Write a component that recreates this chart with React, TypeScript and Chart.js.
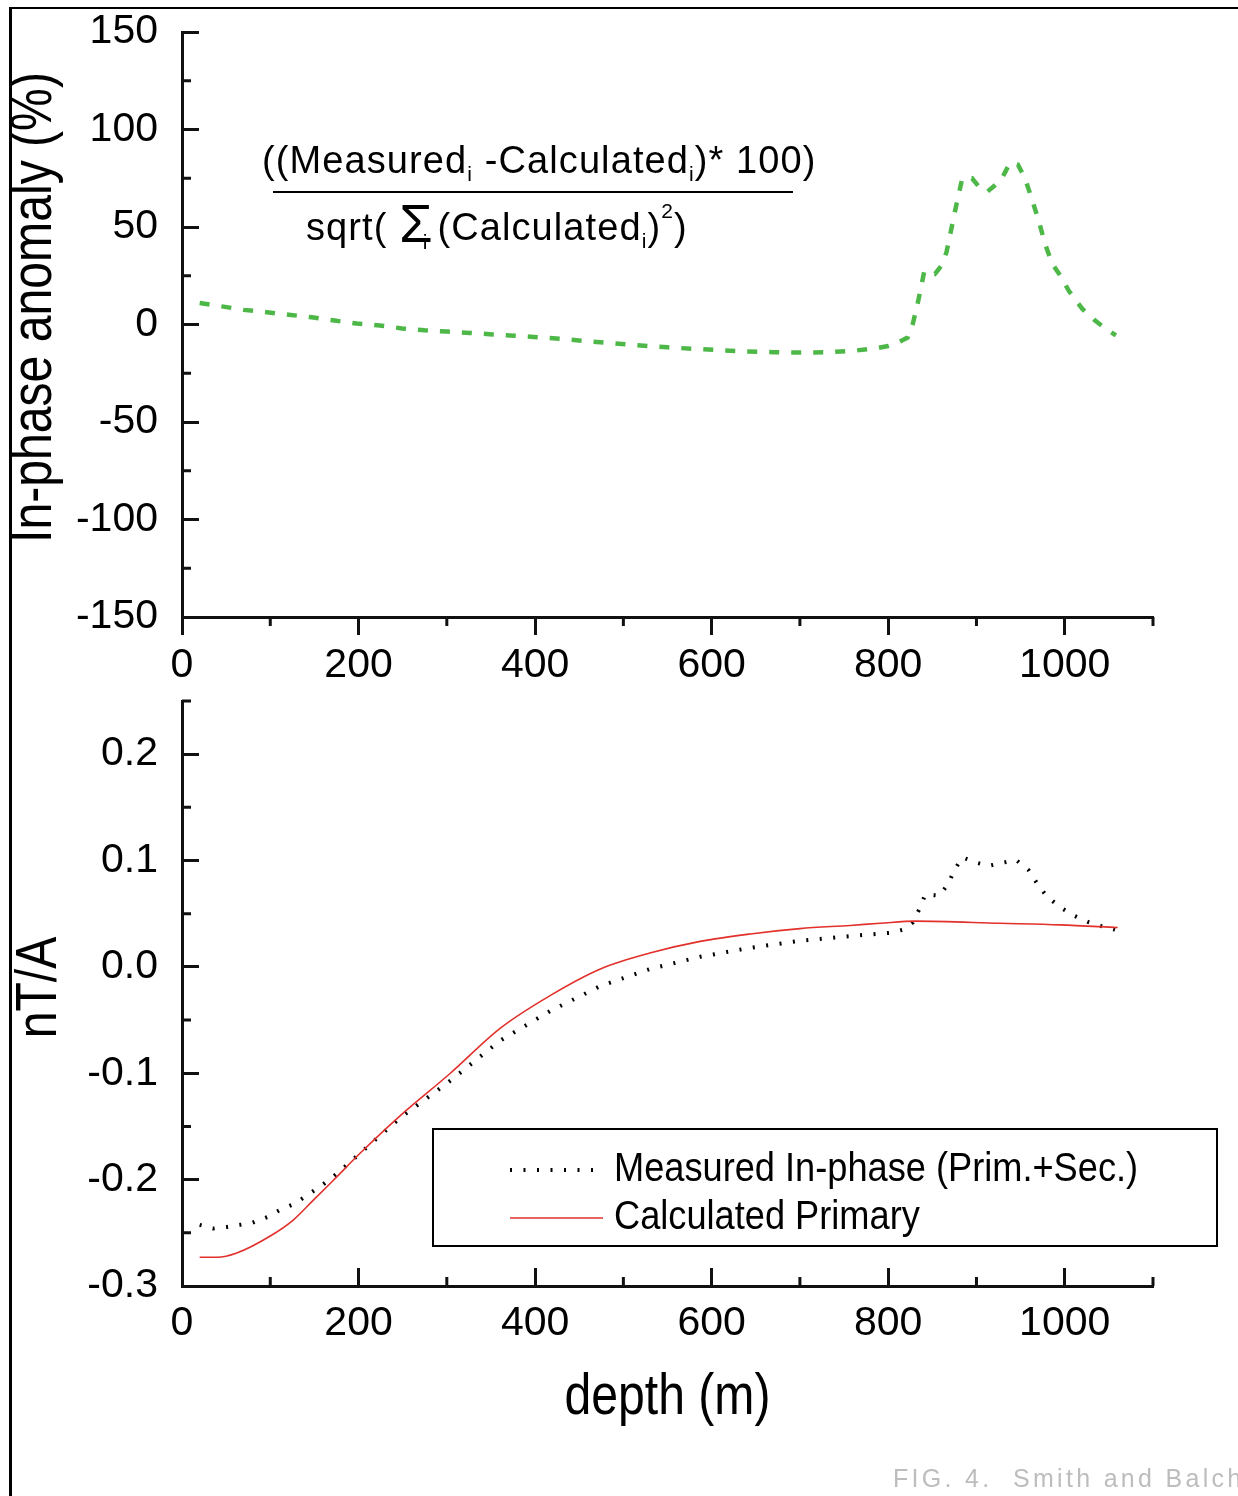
import { useEffect, useRef } from 'react';
import { Chart, registerables } from 'chart.js';

Chart.register(...registerables);

// ---------------- data ----------------
const depthMajorTicks = [0, 200, 400, 600, 800, 1000];
const depthMinorTicks = [100, 300, 500, 700, 900, 1100];
const depthTickLabels = ['0', '200', '400', '600', '800', '1000'];

const anomalyMajorTicks = [-150, -100, -50, 0, 50, 100, 150];
const anomalyMinorTicks = [-125, -75, -25, 25, 75, 125];
const anomalyTickLabels = ['-150', '-100', '-50', '0', '50', '100', '150'];

const fieldMajorTicks = [-0.3, -0.2, -0.1, 0, 0.1, 0.2];
const fieldMinorTicks = [-0.25, -0.15, -0.05, 0.05, 0.15, 0.25];
const fieldTickLabels = ['-0.3', '-0.2', '-0.1', '0.0', '0.1', '0.2'];

const anomalyDepth = [20, 45, 70, 96, 121, 147, 173, 198, 224, 249, 275, 300, 326, 352, 377, 402, 430, 460, 490, 520, 550, 580, 610, 640, 670, 700, 730, 760, 785, 800, 811, 822, 828, 834, 841, 846, 853, 860, 866, 872, 878, 884, 895, 904, 912, 920, 929, 938, 947, 955, 963, 970, 978, 986, 995, 1005, 1020, 1033, 1046, 1058];
const anomalyPercent = [11, 9.3, 7.5, 6.3, 5, 3.7, 2, 0.5, -0.5, -2, -3, -3.6, -4.3, -5.1, -5.8, -6.5, -7.4, -8.6, -9.7, -10.8, -11.7, -12.5, -13.2, -13.8, -14.2, -14.4, -14.2, -13.5, -12.3, -11, -9.2, -6.7, 0.5, 12, 27.5, 27, 26, 30, 37, 50, 63, 75, 75, 70, 68, 71, 75, 83, 82, 75, 64, 54, 41, 31, 25, 17, 8, 2.5, -2, -5.6];

const measuredDepth = [20, 35, 51, 66, 80, 97, 112, 127, 143, 159, 179, 202, 247, 304, 360, 417, 474, 530, 587, 644, 700, 757, 802, 817, 828, 836, 842, 858, 868, 875, 884, 900, 914, 930, 945, 959, 969, 980, 996, 1011, 1027, 1041, 1057];
const measuredInPhase = [-0.2425, -0.246, -0.2445, -0.2425, -0.2405, -0.235, -0.228, -0.223, -0.214, -0.205, -0.192, -0.175, -0.142, -0.107, -0.0695, -0.0415, -0.018, -0.002, 0.0095, 0.018, 0.0245, 0.029, 0.032, 0.035, 0.042, 0.0555, 0.068, 0.067, 0.078, 0.091, 0.103, 0.098, 0.095, 0.098, 0.1005, 0.091, 0.078, 0.066, 0.0555, 0.048, 0.042, 0.0385, 0.035];

const primaryDepth = [20, 40, 62, 100, 126, 148, 171, 202, 247, 304, 360, 417, 474, 530, 587, 644, 700, 757, 791, 831, 927, 995, 1060];
const primaryField = [-0.273, -0.273, -0.269, -0.253, -0.238, -0.22, -0.201, -0.175, -0.14, -0.1, -0.058, -0.027, -0.002, 0.013, 0.024, 0.031, 0.036, 0.039, 0.041, 0.043, 0.041, 0.0395, 0.037];

const seriesLabels = ['Measured In-phase (Prim.+Sec.)', 'Calculated Primary'];
const topAxisTitle = 'In-phase anomaly (%)';
const bottomAxisTitle = 'nT/A';
const depthAxisTitle = 'depth (m)';
const footerText = 'FIG. 4.  Smith and Balch';

// ---------------- styles ----------------
const AXIS = '#111111';
const GREEN = '#4db848';
const RED = '#e2302b';
const FONT = "'Liberation Sans', Arial, sans-serif";
const TICK_SIZE = 41;
const TITLE_SIZE = 58;
const TITLE_SX = 0.83;
// shift of the vertical titles along their own direction (px, upward)
const titleShift: Record<string, number> = { [topAxisTitle]: 17, [bottomAxisTitle]: 6 };

const pts = (xs: number[], ys: number[]) => xs.map((x, i) => ({ x, y: ys[i] }));

// condensed rendering of the axis titles (the original uses a narrow face)
const condenseTitles = {
  id: 'condenseTitles',
  beforeDraw(chart: any) {
    const ctx = chart.ctx as any;
    if (ctx.__origFill) return;
    const orig = CanvasRenderingContext2D.prototype.fillText;
    ctx.__origFill = orig;
    ctx.fillText = function (text: string, x: number, y: number, maxWidth?: number) {
      if (String(this.font).indexOf(TITLE_SIZE + 'px') >= 0) {
        this.save();
        this.translate(x + (titleShift[text] || 0), y);
        this.scale(TITLE_SX, 1);
        orig.call(this, text, 0, 0);
        this.restore();
      } else if (maxWidth !== undefined && maxWidth !== null) {
        orig.call(this, text, x, y, maxWidth);
      } else {
        orig.call(this, text, x, y);
      }
    };
  },
  afterDraw(chart: any) {
    const ctx = chart.ctx as any;
    if (ctx.__origFill) {
      delete ctx.fillText;
      ctx.__origFill = undefined;
    }
  },
};

function drawMinorTicks(chart: any, id: string, values: number[], len: number) {
  const s = chart.scales[id];
  const ctx = chart.ctx;
  ctx.save();
  ctx.strokeStyle = AXIS;
  ctx.lineWidth = 3;
  ctx.beginPath();
  for (const v of values) {
    const p = s.getPixelForValue(v);
    if (s.isHorizontal()) {
      ctx.moveTo(p, s.top);
      ctx.lineTo(p, s.top + len);
    } else {
      ctx.moveTo(s.right, p);
      ctx.lineTo(s.right + len, p);
    }
  }
  ctx.stroke();
  ctx.restore();
}

function fillScaled(ctx: CanvasRenderingContext2D, text: string, x: number, y: number, sx: number) {
  ctx.save();
  ctx.translate(x, y);
  ctx.scale(sx, 1);
  ctx.fillText(text, 0, 0);
  ctx.restore();
}

type Run = { t: string; s: number; dy?: number; dx?: number };
function drawRuns(ctx: CanvasRenderingContext2D, x: number, y: number, runs: Run[]) {
  for (const r of runs) {
    ctx.font = `${r.s}px ${FONT}`;
    x += r.dx || 0;
    ctx.fillText(r.t, x, y + (r.dy || 0));
    x += ctx.measureText(r.t).width;
  }
}

function xScale(inward: boolean, withTitle: boolean) {
  return {
    type: 'linear',
    min: 0,
    max: 1100,
    position: 'bottom',
    afterBuildTicks: (s: any) => {
      s.ticks = depthMajorTicks.map((value) => ({ value }));
    },
    ticks: {
      autoSkip: false,
      maxRotation: 0,
      minRotation: 0,
      color: '#000',
      font: { family: FONT, size: TICK_SIZE },
      padding: inward ? 31 : 6,
      callback: (_v: any, i: number) => depthTickLabels[i],
    },
    grid: { drawOnChartArea: false, tickLength: inward ? -18 : 18, tickWidth: 3, tickColor: AXIS },
    border: { display: true, color: AXIS, width: 3 },
    title: withTitle
      ? { display: true, text: depthAxisTitle, color: '#000', font: { family: FONT, size: TITLE_SIZE }, padding: { top: 0, bottom: 63 } }
      : { display: false },
    afterFit: (s: any) => {
      s.height = withTitle ? 210 : 73;
      s.paddingLeft = 0;
      s.paddingRight = 0;
    },
  };
}

function yScale(min: number, max: number, major: number[], labels: string[], title: string, pad: number) {
  return {
    type: 'linear',
    min,
    max,
    position: 'left',
    afterBuildTicks: (s: any) => {
      s.ticks = major.map((value) => ({ value }));
    },
    ticks: {
      autoSkip: false,
      color: '#000',
      font: { family: FONT, size: TICK_SIZE },
      padding: 41,
      callback: (_v: any, i: number) => labels[i],
    },
    grid: { drawOnChartArea: false, tickLength: -17, tickWidth: 3, tickColor: AXIS },
    border: { display: true, color: AXIS, width: 3 },
    title: { display: true, text: title, color: '#000', font: { family: FONT, size: TITLE_SIZE }, padding: { top: pad, bottom: 0 } },
    afterFit: (s: any) => {
      s.width = 182;
      s.paddingTop = 0;
      s.paddingBottom = 0;
    },
  };
}

export default function App() {
  const topRef = useRef<HTMLCanvasElement>(null);
  const botRef = useRef<HTMLCanvasElement>(null);

  useEffect(() => {
    const topChart = new Chart(topRef.current as HTMLCanvasElement, {
      type: 'line',
      data: {
        datasets: [
          {
            label: 'anomaly',
            data: pts(anomalyDepth, anomalyPercent),
            borderColor: GREEN,
            borderWidth: 4.5,
            borderDash: [10, 12],
            pointRadius: 0,
            tension: 0,
            fill: false,
          },
        ],
      },
      options: {
        animation: false,
        responsive: false,
        maintainAspectRatio: false,
        layout: { padding: { left: 0, right: 85, top: 32, bottom: 0 } },
        plugins: { legend: { display: false }, tooltip: { enabled: false } },
        scales: {
          x: xScale(false, false) as any,
          y: yScale(-150, 150, anomalyMajorTicks, anomalyTickLabels, topAxisTitle, 0) as any,
        },
      },
      plugins: [
        condenseTitles,
        {
          id: 'topExtras',
          afterDraw(chart: any) {
            drawMinorTicks(chart, 'y', anomalyMinorTicks, 9);
            drawMinorTicks(chart, 'x', depthMinorTicks, 9);
            const ctx = chart.ctx as CanvasRenderingContext2D;
            ctx.save();
            ctx.fillStyle = '#000';
            ctx.textAlign = 'left';
            ctx.textBaseline = 'alphabetic';
            (ctx as any).letterSpacing = '1.1px';
            drawRuns(ctx, 262, 173, [
              { t: '((Measured', s: 38 },
              { t: 'i', s: 21, dy: 8 },
              { t: ' -Calculated', s: 38 },
              { t: 'i', s: 21, dy: 8 },
              { t: ')* 100)', s: 38 },
            ]);
            ctx.fillRect(273, 191, 520, 2);
            drawRuns(ctx, 306, 240, [
              { t: 'sqrt( ', s: 38 },
              { t: '\u03A3', s: 54, dy: 2 },
              { t: 'i', s: 21, dy: 9, dx: -11 },
              { t: '(Calculated', s: 38, dx: 9 },
              { t: 'i', s: 21, dy: 8 },
              { t: ')', s: 38 },
              { t: '2', s: 21, dy: -22 },
              { t: ')', s: 38 },
            ]);
            (ctx as any).letterSpacing = '0px';
            ctx.restore();
          },
        },
      ],
    } as any);

    const botChart = new Chart(botRef.current as HTMLCanvasElement, {
      type: 'line',
      data: {
        datasets: [
          {
            label: seriesLabels[0],
            data: pts(measuredDepth, measuredInPhase),
            borderColor: '#000',
            borderWidth: 4,
            borderDash: [2, 11.5],
            pointRadius: 0,
            tension: 0,
            fill: false,
            order: 2,
          },
          {
            label: seriesLabels[1],
            data: pts(primaryDepth, primaryField),
            borderColor: RED,
            borderWidth: 1.6,
            pointRadius: 0,
            cubicInterpolationMode: 'monotone',
            fill: false,
            order: 1,
          },
        ],
      },
      options: {
        animation: false,
        responsive: false,
        maintainAspectRatio: false,
        layout: { padding: { left: 0, right: 85, top: 11, bottom: 0 } },
        plugins: { legend: { display: false }, tooltip: { enabled: false } },
        scales: {
          x: xScale(true, true) as any,
          y: yScale(-0.3, 0.25, fieldMajorTicks, fieldTickLabels, bottomAxisTitle, 5) as any,
        },
      },
      plugins: [
        condenseTitles,
        {
          id: 'botExtras',
          afterDraw(chart: any) {
            drawMinorTicks(chart, 'y', fieldMinorTicks, 9);
            drawMinorTicks(chart, 'x', depthMinorTicks, -9);
            const ctx = chart.ctx as CanvasRenderingContext2D;
            ctx.save();
            // legend box
            ctx.strokeStyle = '#000';
            ctx.lineWidth = 2;
            ctx.strokeRect(433, 439, 784, 117);
            const rows = [
              { ds: chart.data.datasets[0], y: 480 },
              { ds: chart.data.datasets[1], y: 528 },
            ];
            for (const r of rows) {
              ctx.save();
              ctx.strokeStyle = r.ds.borderColor;
              ctx.lineWidth = r.ds.borderWidth;
              ctx.setLineDash(r.ds.borderDash || []);
              ctx.beginPath();
              ctx.moveTo(510, r.y);
              ctx.lineTo(603, r.y);
              ctx.stroke();
              ctx.restore();
              ctx.fillStyle = '#000';
              ctx.font = `40px ${FONT}`;
              ctx.textAlign = 'left';
              ctx.textBaseline = 'middle';
              fillScaled(ctx, r.ds.label, 614, r.y, 0.905);
            }
            // footer
            ctx.fillStyle = '#bdbdbd';
            ctx.font = `25px ${FONT}`;
            ctx.textBaseline = 'alphabetic';
            (ctx as any).letterSpacing = '3.3px';
            ctx.fillText(footerText, 893, 797);
            (ctx as any).letterSpacing = '0px';
            ctx.restore();
          },
        },
      ],
    } as any);

    return () => {
      topChart.destroy();
      botChart.destroy();
    };
  }, []);

  return (
    <div style={{ position: 'absolute', left: 0, top: 0, width: 1238, height: 1496, overflow: 'hidden', background: '#fff' }}>
      <canvas ref={topRef} width={1238} height={690} style={{ position: 'absolute', left: 0, top: 0, width: 1238, height: 690 }} />
      <canvas ref={botRef} width={1238} height={806} style={{ position: 'absolute', left: 0, top: 690, width: 1238, height: 806 }} />
      <div style={{ position: 'absolute', left: 9, top: 7, width: 3, height: 1489, background: '#000' }} />
      <div style={{ position: 'absolute', left: 9, top: 7, width: 1229, height: 2, background: '#000' }} />
    </div>
  );
}
